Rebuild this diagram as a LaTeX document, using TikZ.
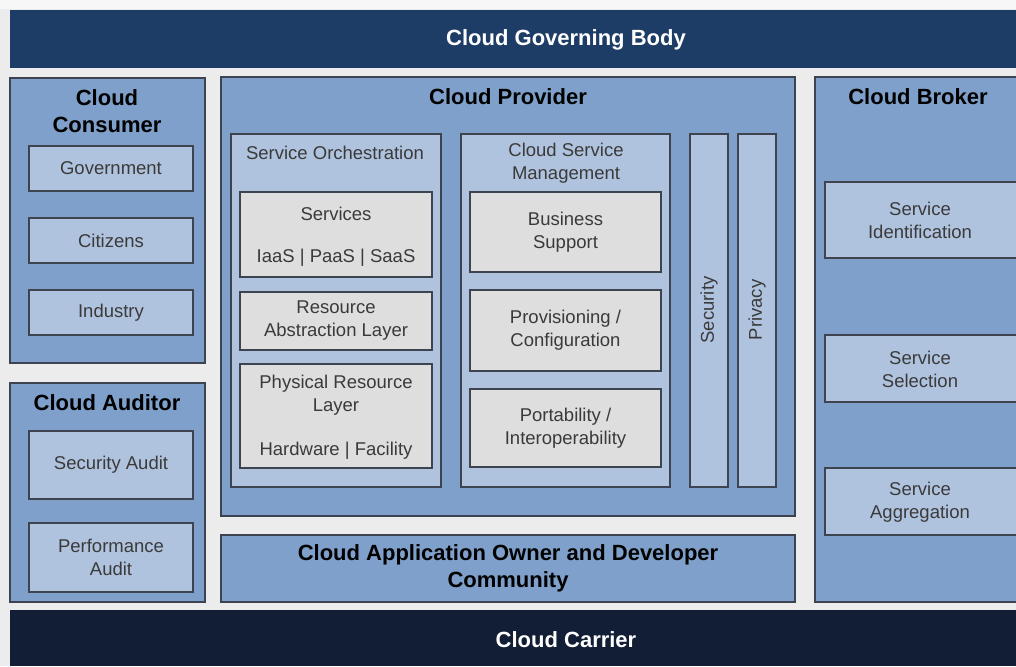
\documentclass[tikz,border=0pt]{standalone}
\usepackage{fontspec}
\setmainfont{Liberation Sans}
\definecolor{bgc}{HTML}{ECECEC}
\definecolor{govc}{HTML}{1E3D66}
\definecolor{carc}{HTML}{111E36}
\definecolor{midblue}{HTML}{7EA0CA}
\definecolor{liteblue}{HTML}{B0C3DE}
\definecolor{greybox}{HTML}{DEDEDE}
\definecolor{bord}{HTML}{3E4350}
\definecolor{txtc}{HTML}{3A3A3A}
\newcommand\bx[7]{\node[#2, anchor=north west, minimum width={(#5-#3)*1pt}, minimum height={(#6-#4)*1pt}, inner sep=0pt, outer sep=0pt] (#1) at (#3,#4) {#7};}
\begin{document}
\begin{tikzpicture}[x=1pt,y=-1pt,
  outer/.style={draw=bord, fill=midblue, line width=1.5pt},
  lite/.style={draw=bord, fill=liteblue, line width=1.5pt},
  grey/.style={draw=bord, fill=greybox, line width=1.5pt},
  band/.style={draw=none},
  tl/.style={font=\fontsize{22}{27}\selectfont\bfseries, text=black, align=center, inner sep=0pt},
  wt/.style={font=\fontsize{22}{27}\selectfont\bfseries, text=white, align=center, inner sep=0pt},
  tx/.style={font=\fontsize{18.5}{23}\selectfont, text=txtc, align=center, inner sep=0pt}]
\useasboundingbox (0,0) rectangle (1016,666);
\fill[bgc] (0,0) rectangle (1016,666);
\fill[white!60!bgc] (0,0) rectangle (1016,9);
% top and bottom bands
\bx{gov}{band, fill=govc}{10}{10}{1016}{68}{}
\node[wt] (govt) at (566,40) {Cloud Governing Body};
\bx{car}{band, fill=carc}{10}{610}{1016}{666}{}
\node[wt] (cart) at (566,640) {Cloud Carrier};
% Cloud Consumer
\bx{cons}{outer}{10}{78}{205}{363}{}
\node[tl] (const) at (107,111) {Cloud\\Consumer};
\bx{govm}{lite, tx}{29}{146}{193}{191}{Government}
\bx{citz}{lite, tx}{29}{218}{193}{263}{Citizens}
\bx{indu}{lite, tx}{29}{290}{193}{335}{Industry}
% Cloud Auditor
\bx{aud}{outer}{10}{383}{205}{602}{}
\node[tl] (audt) at (107,403) {Cloud Auditor};
\bx{secaud}{lite, tx}{29}{431}{193}{499}{Security Audit}
\bx{perfaud}{lite, tx}{29}{523}{193}{592}{Performance\\Audit}
% Cloud Provider
\bx{prov}{outer}{221}{77}{795}{516}{}
\node[tl] (provt) at (508,97) {Cloud Provider};
\bx{orch}{lite}{231}{134}{441}{487}{}
\node[tx] (orcht) at (335,153) {Service Orchestration};
\bx{serv}{grey}{240}{192}{432}{277}{}
\node[tx] (servt) at (336,214) {Services};
\node[tx] (servs) at (336,258) {IaaS | PaaS | SaaS};
\bx{ral}{grey, tx}{240}{292}{432}{350}{Resource\\Abstraction Layer}
\bx{prl}{grey}{240}{364}{432}{468}{}
\node[tx] (prlt) at (336,395) {Physical Resource\\Layer};
\node[tx] (prls) at (336,451) {Hardware | Facility};
\bx{csm}{lite}{461}{134}{670}{487}{}
\node[tx] (csmt) at (566,163) {Cloud Service\\Management};
\bx{bus}{grey, tx}{470}{192}{661}{272}{Business\\Support}
\bx{provc}{grey, tx}{470}{290}{661}{371}{Provisioning /\\Configuration}
\bx{port}{grey, tx}{470}{389}{661}{467}{Portability /\\Interoperability}
\bx{secu}{lite}{690}{134}{728}{487}{}
\node[tx, rotate=90] (secut) at (709,310) {Security};
\bx{priv}{lite}{738}{134}{776}{487}{}
\node[tx, rotate=90] (privt) at (757,310) {Privacy};
% Application owner
\bx{app}{outer, tl}{221}{535}{795}{602}{Cloud Application Owner and Developer\\Community}
% Cloud Broker
\bx{brok}{outer}{815}{77}{1024}{602}{}
\node[tl] (brokt) at (918,97) {Cloud Broker};
\bx{sid}{lite}{825}{182}{1024}{258}{}
\node[tx] (sidt) at (920,220) {Service\\Identification};
\bx{ssel}{lite}{825}{335}{1024}{402}{}
\node[tx] (sselt) at (920,369) {Service\\Selection};
\bx{sagg}{lite}{825}{468}{1024}{535}{}
\node[tx] (saggt) at (920,502) {Service\\Aggregation};
\end{tikzpicture}
\end{document}
